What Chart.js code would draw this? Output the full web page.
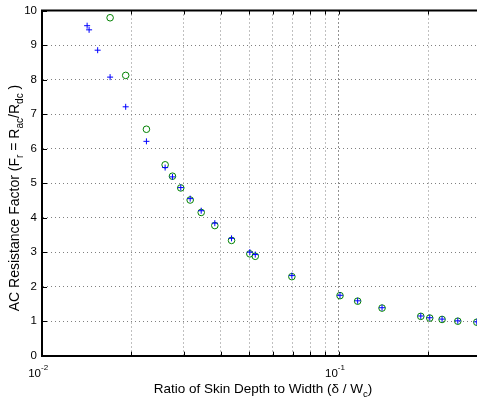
<!DOCTYPE html>
<html><head><meta charset="utf-8">
<script src="https://cdn.jsdelivr.net/npm/chart.js@4"></script>
<style>html,body{margin:0;padding:0;background:#fff;overflow:hidden}canvas{display:block}</style>
</head><body>
<canvas id="c" width="477" height="401"></canvas>
<script>
// ---- data ----
const plusX = [0.01419,0.01441,0.01540,0.01696,0.01914,0.02248,0.02599,0.02751,0.02934,0.03156,0.03438,0.03821,0.04350,0.05014,0.05229,0.06946,0.1009,0.1157,0.1398,0.1888,0.2024,0.2227,0.2516,0.2916];
const plusY = [9.56,9.44,8.85,8.07,7.21,6.21,5.45,5.18,4.87,4.55,4.20,3.84,3.40,3.00,2.93,2.32,1.75,1.59,1.39,1.15,1.10,1.06,1.01,0.98];
const circleX = [0.01696,0.01914,0.02248,0.02599,0.02751,0.02934,0.03156,0.03438,0.03821,0.04350,0.05014,0.05229,0.06946,0.1009,0.1157,0.1398,0.1888,0.2024,0.2227,0.2516,0.2916];
const circleY = [9.79,8.12,6.56,5.53,5.20,4.86,4.51,4.15,3.77,3.34,2.95,2.88,2.29,1.74,1.58,1.38,1.14,1.09,1.05,1.00,0.97];
const xGridValues = [0.01,0.02,0.03,0.04,0.05,0.06,0.07,0.08,0.09,0.1,0.2];
const xTickLabels = [{value:0.01, base:'10', exp:'-2'},{value:0.1, base:'10', exp:'-1'}];
const yTickValues = [0,1,2,3,4,5,6,7,8,9,10];
const yTickLabels = ['0','1','2','3','4','5','6','7','8','9','10'];
const xTitle = [{t:'Ratio of Skin Depth to Width (\u03b4 / W'},{t:'c',sub:true},{t:')'}];
const yTitle = [{t:'AC Resistance Factor (F'},{t:'r',sub:true},{t:' = R'},{t:'ac',sub:true},{t:'/R'},{t:'dc',sub:true},{t:' )'}];

const FAM = '"Liberation Sans", Arial, Helvetica, sans-serif';

function drawRich(ctx, segs, x, y, size) {
  let w = 0;
  segs.forEach(s => { ctx.font = (s.sub ? size*0.72 : size) + 'px ' + FAM; s.w = ctx.measureText(s.t).width; w += s.w; });
  let cx = x - w/2;
  ctx.textAlign = 'left'; ctx.textBaseline = 'alphabetic';
  segs.forEach(s => { ctx.font = (s.sub ? size*0.72 : size) + 'px ' + FAM; ctx.fillText(s.t, cx, y + (s.sub ? size*0.32 : 0)); cx += s.w; });
}

const decor = {
  id: 'decor',
  afterDraw(chart) {
    const {ctx, chartArea: a, scales: {x, y}} = chart;
    ctx.save();
    ctx.strokeStyle = '#000';
    ctx.lineWidth = 2;
    ctx.beginPath(); ctx.moveTo(a.left - 1, a.top); ctx.lineTo(a.right, a.top); ctx.stroke();
    ctx.lineWidth = 1;
    ctx.beginPath();
    yTickValues.forEach(v => { const py = Math.round(y.getPixelForValue(v)) + 0.5; ctx.moveTo(a.left, py); ctx.lineTo(a.left + 5, py); });
    xGridValues.forEach(v => { const px = Math.round(x.getPixelForValue(v)) + 0.5; ctx.moveTo(px, a.bottom); ctx.lineTo(px, a.bottom - 4); ctx.moveTo(px, a.top); ctx.lineTo(px, a.top + 4); });
    ctx.stroke();
    ctx.fillStyle = '#000';
    xTickLabels.forEach(l => {
      const px = x.getPixelForValue(l.value);
      ctx.font = '11.5px ' + FAM; ctx.textAlign = 'right'; ctx.textBaseline = 'alphabetic';
      ctx.fillText(l.base, px - 1, 377);
      ctx.font = '8px ' + FAM; ctx.textAlign = 'left';
      ctx.fillText(l.exp, px - 1, 370);
    });
    drawRich(ctx, xTitle, 263, 393, 13.5);
    ctx.save();
    ctx.translate(19, 198); ctx.rotate(-Math.PI/2);
    drawRich(ctx, yTitle, 0, 0, 14);
    ctx.restore();
    ctx.restore();
  }
};

const gridCol = '#808080';
new Chart(document.getElementById('c'), {
  type: 'scatter',
  data: {
    datasets: [
      { label: 'plus', data: plusX.map((v, i) => ({x: v, y: plusY[i]})), pointStyle: 'cross', pointRadius: 3, pointHoverRadius: 3, borderColor: '#0000ff', backgroundColor: '#0000ff', borderWidth: 1, showLine: false },
      { label: 'circle', data: circleX.map((v, i) => ({x: v, y: circleY[i]})), pointStyle: 'circle', pointRadius: 3.3, pointHoverRadius: 3.3, borderColor: '#008000', backgroundColor: 'rgba(0,0,0,0)', borderWidth: 1, showLine: false }
    ]
  },
  options: {
    responsive: false, animation: false,
    layout: { autoPadding: false, padding: { left: 0, top: 10.5, right: 0, bottom: 45.3 } },
    plugins: { legend: { display: false }, tooltip: { enabled: false } },
    scales: {
      x: {
        type: 'logarithmic', min: 0.01, max: 0.292,
        afterBuildTicks: s => { s.ticks = xGridValues.map(v => ({value: v})); },
        afterFit: s => { s.height = 0; s.paddingLeft = 0; s.paddingRight = 0; },
        ticks: { display: false },
        grid: { drawTicks: false, lineWidth: 1, color: c => (c.tick && c.tick.value === 0.1) ? '#222' : gridCol },
        border: { display: true, color: '#000', width: 2, dash: [1, 3] }
      },
      y: {
        type: 'linear', min: 0, max: 10,
        afterBuildTicks: s => { s.ticks = yTickValues.map(v => ({value: v})); },
        afterFit: s => { s.width = 42; s.paddingTop = 0; s.paddingBottom = 0; },
        ticks: { color: '#000', padding: 5, font: { family: FAM, size: 11.5 }, callback: (v, i) => yTickLabels[i] },
        grid: { drawTicks: false, lineWidth: 1, color: gridCol },
        border: { display: true, color: '#000', width: 2, dash: [1, 3] }
      }
    }
  },
  plugins: [decor]
});
</script>
</body></html>
